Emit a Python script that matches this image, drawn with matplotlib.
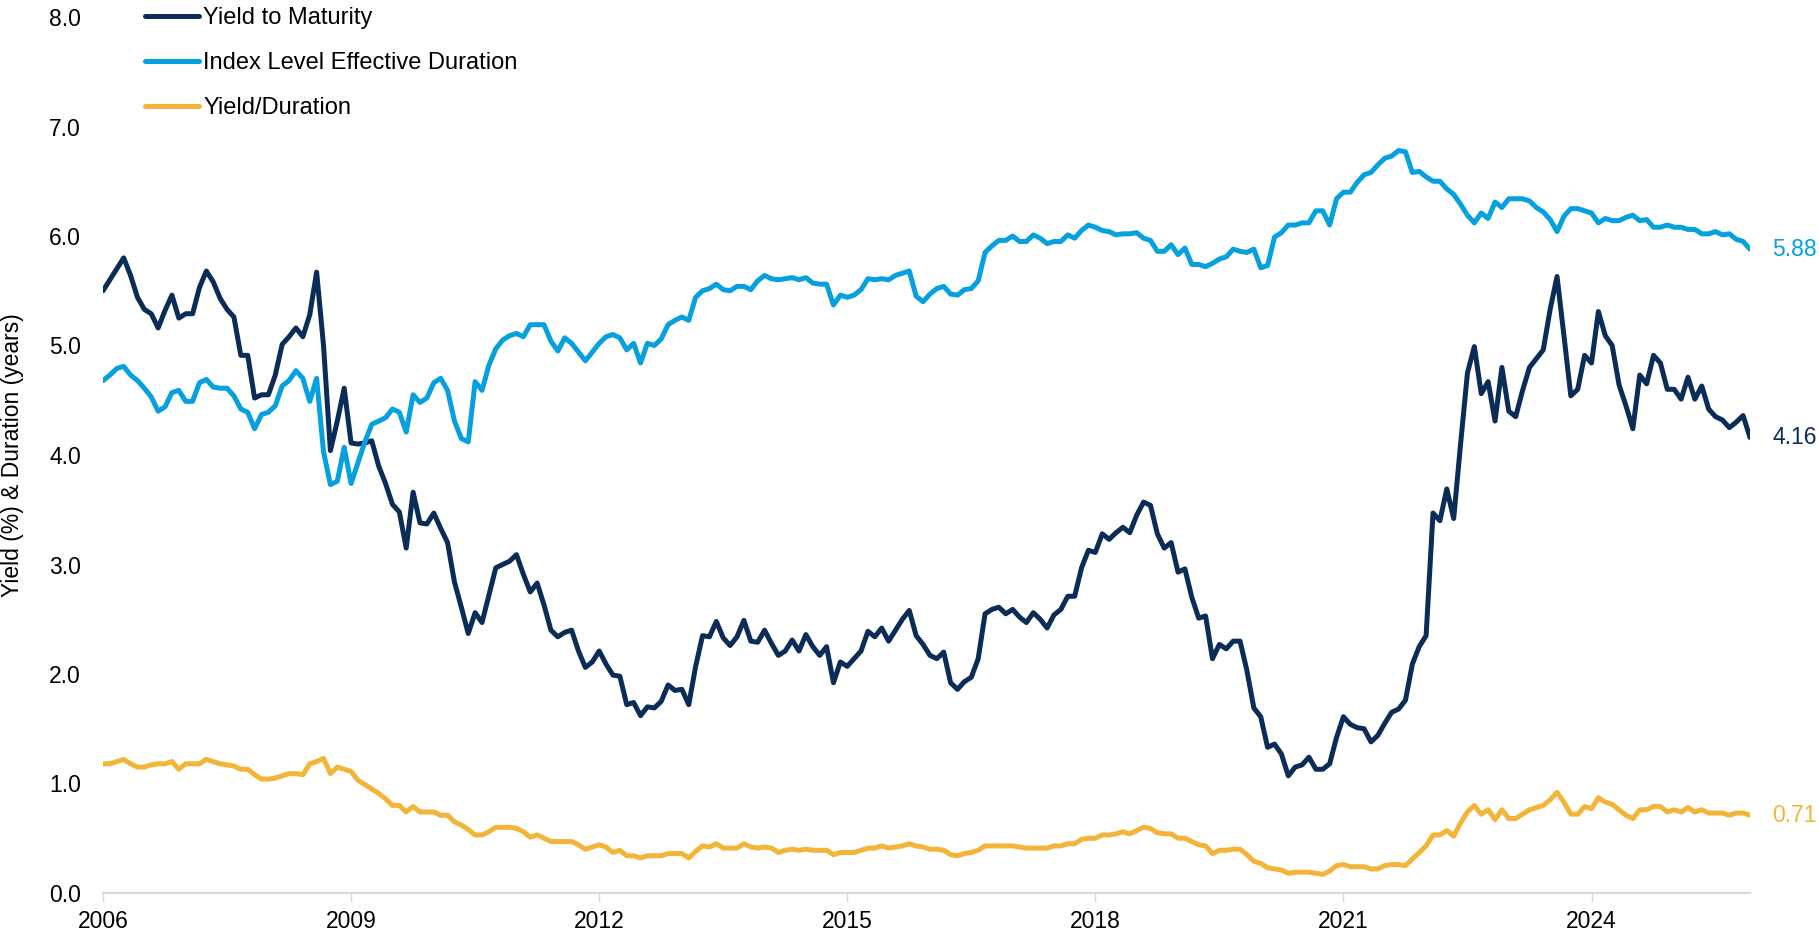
import matplotlib.pyplot as plt
import numpy as np

# monthly observations, Jan 2006 - Dec 2025
ytm = [
    5.50, 5.60, 5.70, 5.80, 5.64, 5.44, 5.33, 5.29, 5.16, 5.32, 5.46, 5.25, 5.29, 5.29, 5.53, 5.68, 5.58, 5.43, 5.33, 5.26,
    4.91, 4.91, 4.52, 4.55, 4.55, 4.73, 5.01, 5.08, 5.16, 5.08,
    5.28, 5.67, 5.00, 4.04, 4.31, 4.61, 4.11, 4.10, 4.11, 4.13, 3.90, 3.74, 3.55, 3.48, 3.15, 3.66, 3.38, 3.37, 3.47, 3.33,
    3.20, 2.84, 2.61, 2.37, 2.56, 2.47, 2.72, 2.97, 3.00, 3.03,
    3.09, 2.91, 2.75, 2.83, 2.63, 2.40, 2.34, 2.38, 2.40, 2.21, 2.06, 2.11, 2.21, 2.09, 1.99, 1.98, 1.72, 1.74, 1.62, 1.70,
    1.69, 1.75, 1.90, 1.85, 1.86, 1.72, 2.07, 2.35, 2.34, 2.48,
    2.33, 2.26, 2.34, 2.49, 2.30, 2.29, 2.40, 2.28, 2.17, 2.21, 2.31, 2.21, 2.36, 2.25, 2.17, 2.25, 1.92, 2.11, 2.07, 2.14,
    2.21, 2.39, 2.34, 2.42, 2.30, 2.40, 2.50, 2.58, 2.35, 2.27,
    2.17, 2.14, 2.20, 1.92, 1.86, 1.93, 1.97, 2.14, 2.55, 2.59, 2.61, 2.55, 2.59, 2.52, 2.47, 2.56, 2.50, 2.42, 2.54, 2.59,
    2.71, 2.71, 2.97, 3.13, 3.11, 3.28, 3.23, 3.29, 3.34,
    3.29, 3.45, 3.57, 3.54, 3.28, 3.15, 3.20, 2.93, 2.96, 2.70, 2.51, 2.53, 2.14, 2.27, 2.23, 2.30, 2.30, 2.03, 1.69, 1.61,
    1.33, 1.36, 1.27, 1.07, 1.15, 1.17, 1.24, 1.13, 1.13,
    1.18, 1.42, 1.61, 1.54, 1.51, 1.50, 1.38, 1.44, 1.55, 1.65, 1.68, 1.76, 2.09, 2.25, 2.35, 3.47, 3.40, 3.69, 3.42, 4.10,
    4.75, 4.99, 4.56, 4.67, 4.31, 4.80, 4.40, 4.35, 4.59,
    4.80, 4.88, 4.96, 5.33, 5.63, 5.09, 4.54, 4.60, 4.91, 4.84, 5.31, 5.09, 5.00, 4.64, 4.45, 4.24, 4.73, 4.65, 4.91, 4.84,
    4.60, 4.60, 4.51, 4.71, 4.51, 4.63, 4.42, 4.35, 4.32, 4.25, 4.30, 4.36, 4.16,
]

duration = [
    4.68, 4.73, 4.79, 4.81, 4.73, 4.68, 4.61, 4.53, 4.40, 4.44, 4.57, 4.59, 4.49, 4.49, 4.66, 4.69, 4.62, 4.61, 4.61, 4.54,
    4.42, 4.39, 4.24, 4.37, 4.39, 4.45, 4.63, 4.68, 4.77, 4.70,
    4.49, 4.70, 4.03, 3.73, 3.76, 4.07, 3.74, 3.93, 4.12, 4.28, 4.31, 4.34, 4.42, 4.39, 4.21, 4.55, 4.48, 4.52, 4.66, 4.70,
    4.59, 4.31, 4.15, 4.12, 4.67, 4.59, 4.82, 4.97, 5.05, 5.09,
    5.11, 5.08, 5.19, 5.19, 5.19, 5.04, 4.95, 5.07, 5.02, 4.94, 4.86, 4.94, 5.02, 5.08, 5.10, 5.07, 4.96, 5.02, 4.84, 5.02,
    5.00, 5.06, 5.19, 5.23, 5.26, 5.23, 5.44, 5.50, 5.52, 5.56,
    5.51, 5.50, 5.54, 5.54, 5.51, 5.59, 5.64, 5.61, 5.60, 5.61, 5.62, 5.60, 5.62, 5.57, 5.56, 5.56, 5.37, 5.46, 5.44, 5.46,
    5.51, 5.61, 5.60, 5.61, 5.60, 5.64, 5.66, 5.68, 5.45, 5.40,
    5.47, 5.52, 5.54, 5.47, 5.46, 5.51, 5.52, 5.59, 5.85, 5.91, 5.96, 5.96, 6.00, 5.95, 5.95, 6.01, 5.98, 5.93, 5.95, 5.95,
    6.01, 5.98, 6.05, 6.10, 6.08, 6.05, 6.04, 6.01, 6.02,
    6.02, 6.03, 5.98, 5.96, 5.86, 5.86, 5.92, 5.83, 5.89, 5.74, 5.74, 5.72, 5.75, 5.79, 5.81, 5.88, 5.86, 5.85, 5.88, 5.71,
    5.73, 5.99, 6.03, 6.10, 6.10, 6.12, 6.12, 6.23, 6.23,
    6.10, 6.34, 6.40, 6.40, 6.49, 6.56, 6.58, 6.65, 6.71, 6.73, 6.78, 6.77, 6.58, 6.59, 6.54, 6.50, 6.50, 6.43, 6.38, 6.29,
    6.19, 6.12, 6.21, 6.16, 6.31, 6.26, 6.34, 6.34, 6.34,
    6.32, 6.26, 6.22, 6.15, 6.04, 6.18, 6.25, 6.25, 6.23, 6.21, 6.12, 6.16, 6.14, 6.14, 6.17, 6.19, 6.14, 6.15, 6.08, 6.08,
    6.10, 6.08, 6.08, 6.06, 6.06, 6.02, 6.02, 6.04, 6.01, 6.02, 5.97, 5.95, 5.88,
]

yield_per_duration = [
    1.18, 1.18, 1.20, 1.22, 1.18, 1.15, 1.15, 1.17, 1.18, 1.18, 1.20, 1.13, 1.18, 1.18, 1.18, 1.22, 1.20, 1.18, 1.17, 1.16,
    1.13, 1.13, 1.08, 1.04, 1.04, 1.05, 1.07, 1.09, 1.09, 1.08,
    1.18, 1.20, 1.23, 1.09, 1.15, 1.13, 1.11, 1.03, 0.99, 0.95, 0.91, 0.86, 0.80, 0.80, 0.74, 0.79, 0.74, 0.74, 0.74, 0.71,
    0.71, 0.65, 0.62, 0.58, 0.53, 0.53, 0.56, 0.60, 0.60, 0.60,
    0.59, 0.56, 0.51, 0.53, 0.50, 0.47, 0.47, 0.47, 0.47, 0.44, 0.40, 0.42, 0.44, 0.42, 0.37, 0.39, 0.34, 0.34, 0.32, 0.34,
    0.34, 0.34, 0.36, 0.36, 0.36, 0.32, 0.38, 0.43, 0.42, 0.45,
    0.41, 0.41, 0.41, 0.45, 0.42, 0.41, 0.42, 0.41, 0.37, 0.39, 0.40, 0.39, 0.40, 0.39, 0.39, 0.39, 0.35, 0.37, 0.37, 0.37,
    0.39, 0.41, 0.41, 0.43, 0.41, 0.42, 0.43, 0.45, 0.43, 0.42,
    0.40, 0.40, 0.39, 0.35, 0.34, 0.36, 0.37, 0.39, 0.43, 0.43, 0.43, 0.43, 0.43, 0.42, 0.41, 0.41, 0.41, 0.41, 0.43, 0.43,
    0.45, 0.45, 0.49, 0.50, 0.50, 0.53, 0.53, 0.54, 0.56,
    0.54, 0.57, 0.60, 0.59, 0.55, 0.54, 0.54, 0.50, 0.50, 0.47, 0.44, 0.43, 0.36, 0.39, 0.39, 0.40, 0.40, 0.35, 0.29, 0.27,
    0.23, 0.22, 0.21, 0.18, 0.19, 0.19, 0.19, 0.18, 0.17,
    0.20, 0.25, 0.26, 0.24, 0.24, 0.24, 0.22, 0.22, 0.25, 0.26, 0.26, 0.25, 0.31, 0.37, 0.43, 0.53, 0.53, 0.57, 0.52, 0.64,
    0.74, 0.80, 0.72, 0.76, 0.67, 0.76, 0.68, 0.68, 0.72,
    0.76, 0.78, 0.80, 0.85, 0.92, 0.83, 0.72, 0.72, 0.79, 0.77, 0.87, 0.83, 0.81, 0.76, 0.71, 0.68, 0.76, 0.76, 0.79, 0.79,
    0.74, 0.76, 0.74, 0.78, 0.74, 0.76, 0.73, 0.73, 0.73, 0.71, 0.73, 0.73, 0.71,
]

year_labels = ["2006", "2009", "2012", "2015", "2018", "2021", "2024"]
end_labels = ["4.16", "5.88", "0.71"]

NAVY = "#0B2C56"
BLUE = "#06A0DE"
GOLD = "#F2B53A"

plt.rcParams["font.family"] = ["Liberation Sans", "DejaVu Sans"]
FS = 16.5

fig = plt.figure(figsize=(18.19, 9.40), dpi=100)
ax = fig.add_axes([103 / 1819, 47 / 940, (1750 - 103) / 1819, (893 - 17) / 940])

x = np.arange(len(ytm))
series = [(ytm, NAVY, "Yield to Maturity"),
          (duration, BLUE, "Index Level Effective Duration"),
          (yield_per_duration, GOLD, "Yield/Duration")]
for (vals, col, name), lab in zip(series, end_labels):
    ax.plot(x, vals, color=col, lw=3.6, label=name, solid_capstyle="round", solid_joinstyle="round")
    ax.annotate(lab, xy=(x[-1], vals[-1]), xytext=(16, 0), textcoords="offset points",
                va="center", ha="left", color=col, fontsize=FS)

ax.set_xlim(0, len(ytm) - 1)
ax.set_ylim(0, 8)
ax.set_yticks(np.arange(0, 9, 1))
ax.set_yticklabels([f"{v:.1f}" for v in np.arange(0, 9, 1)])
ax.set_xticks(np.arange(len(year_labels)) * 36)
ax.set_xticklabels(year_labels)

for s in ["top", "right", "left"]:
    ax.spines[s].set_visible(False)
ax.spines["bottom"].set_color("#D9D9D9")
ax.spines["bottom"].set_linewidth(1.6)
ax.tick_params(axis="y", length=0, pad=16, labelsize=FS)
ax.tick_params(axis="x", length=6.5, width=1, color="#D9D9D9", pad=6, labelsize=FS)

# label sits just left of the tick labels, centred on the axis height
ax.set_ylabel("Yield (%) & Duration (years)", fontsize=FS)
ax.yaxis.set_label_coords(-(103 - 24) / 1647, 0.5)

leg = ax.legend(loc="upper left", bbox_to_anchor=(145 / 1819, 1 - 7 / 940), bbox_transform=fig.transFigure,
                frameon=False, fontsize=17, handlelength=2.3, handletextpad=0.17,
                labelspacing=0.98, borderpad=0, borderaxespad=0)
for h in leg.get_lines():
    h.set_solid_capstyle("round")

fig.savefig("out.png", dpi=100, facecolor="white")
